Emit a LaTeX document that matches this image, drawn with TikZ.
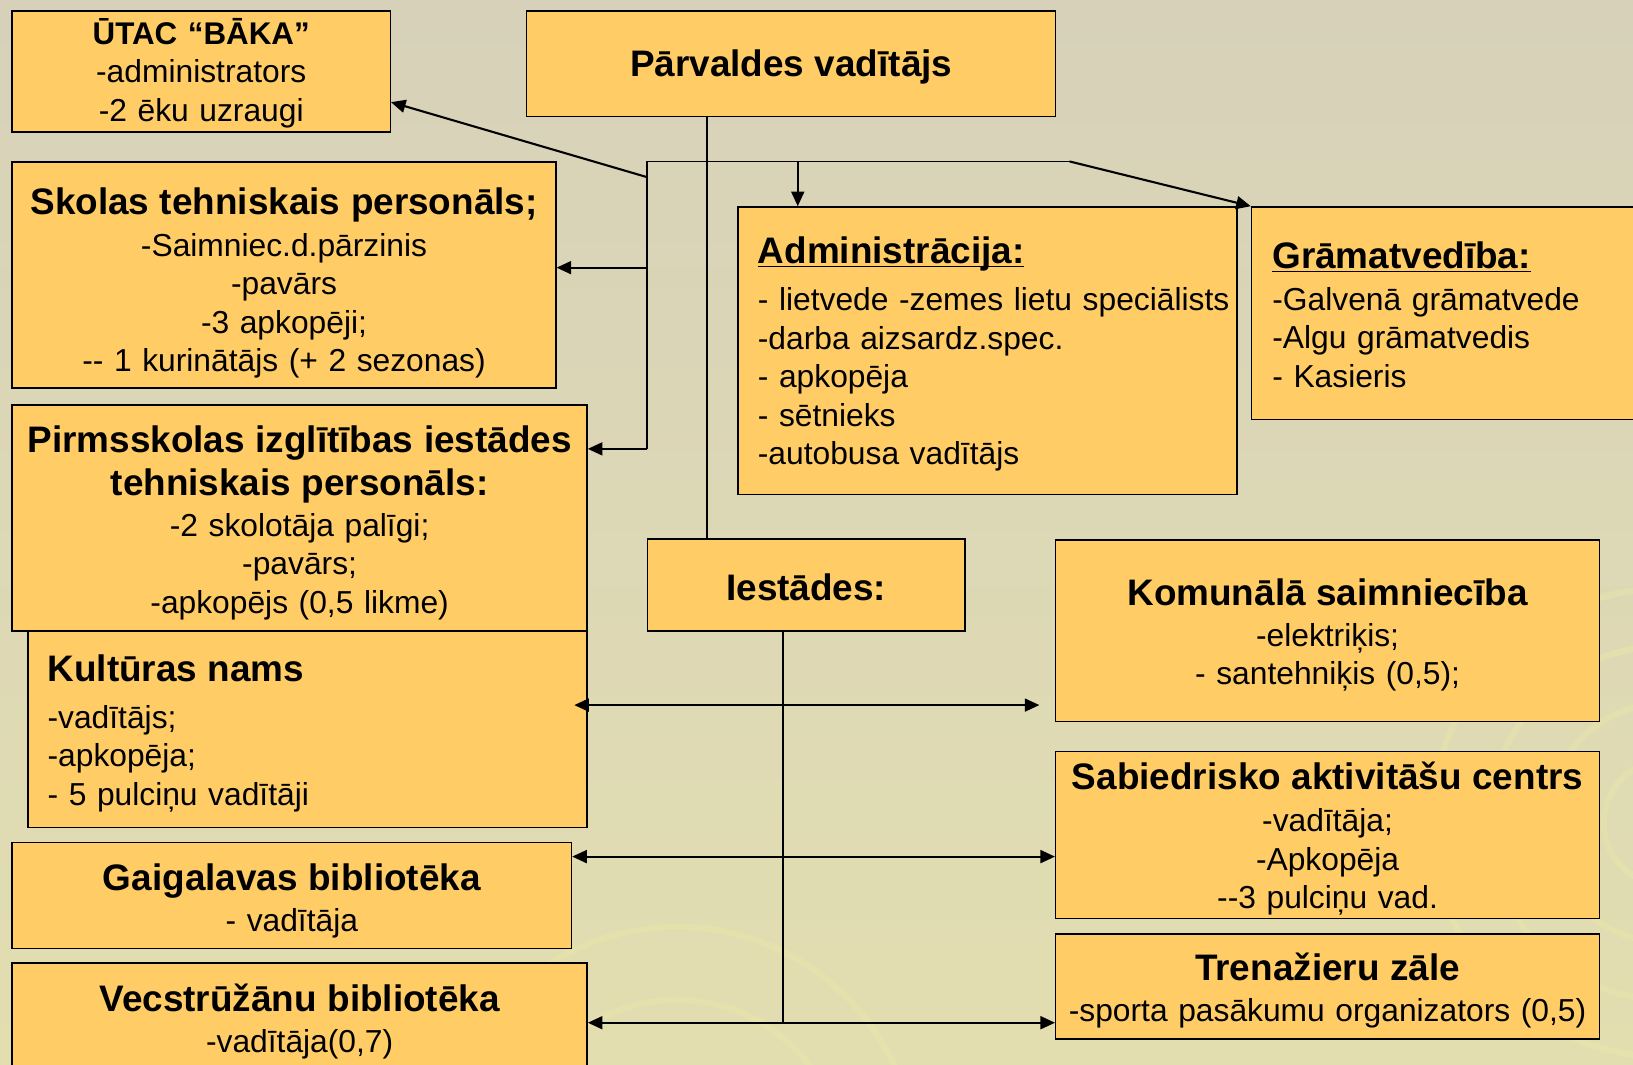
\documentclass[tikz,border=0pt]{standalone}
\usepackage{fontspec}
\setmainfont{Liberation Sans}
\usetikzlibrary{arrows.meta,calc}
\definecolor{boxfill}{RGB}{255,204,102}
\definecolor{bgtop}{RGB}{215,209,186}
\definecolor{bgbot}{RGB}{226,222,176}
\definecolor{swirl}{RGB}{238,235,168}
\def\ttl{\fontsize{25.2}{30}\selectfont\bfseries}
\def\sttl{\fontsize{21.4}{26.3}\selectfont\bfseries}
\def\txt{\fontsize{21.7}{26.3}\selectfont\lineskiplimit=-50pt}
\def\uttl#1{\underline{\smash{#1}}}
\def\tall#1{\rule{0pt}{#1pt}}
\tikzset{
	box/.style={draw=black, line width=1pt, fill=boxfill, anchor=north west, inner xsep=0pt, inner ysep=0pt, align=center, font=\txt},
	lbox/.style={box, align=left, inner xsep=4.75mm},
	sz/.style 2 args={text width=#1, minimum height=#2},
	link/.style={line width=0.5mm},
	trunkline/.style={line width=0.4mm},
	tip/.style={link, -{Triangle[length=3.5mm,width=3.1mm]}},
	tips/.style={link, {Triangle[length=3.5mm,width=3.1mm]}-{Triangle[length=3.5mm,width=3.1mm]}}
}

\begin{document}
\begin{tikzpicture}[x=0.25mm, y=-0.25mm]
		%%%%% BACKGROUND %%%%%
		\useasboundingbox (0,0) rectangle (1568,1022);
		\clip (0,0) rectangle (1568,1022);
		\shade[top color=bgtop, middle color=bgtop, bottom color=bgbot] (0,0) rectangle (1568,1022);
		\begin{scope}[swirl, line width=1.5mm, opacity=0.35]
			\foreach \r in {60,115,170,225} \draw (1600,790) circle (\r);
			\foreach \r in {90,160,230} \draw (650,1120) circle (\r);
		\end{scope}
		
		%%%%% UPPER PART %%%%%
		\node[box, sz={90.75mm}{29mm}] (utac) at (11,10) {\tall{19.8}{\sttl ŪTAC “BĀKA”}\\-administrators\\-2 ēku uzraugi};
		\node[box, sz={127mm}{25.25mm}] (parv) at (505,10) {\tall{22.7}{\ttl Pārvaldes vadītājs}};
		\node[box, sz={130.5mm}{54.25mm}] (skol) at (11,155) {\tall{29.1}{\ttl Skolas tehniskais personāls;}\\[2.1pt]-Saimniec.d.pārzinis\\-pavārs\\-3 apkopēji;\\-{}- 1 kurinātājs (+ 2 sezonas)};
		\node[box, sz={138mm}{54.25mm}] (pirm) at (11,388) {\tall{24.8}{\ttl Pirmsskolas izglītības iestādes\\[3.6pt]tehniskais personāls:}\\[1.4pt]-2 skolotāja palīgi;\\-pavārs;\\-apkopējs (0,5 likme)};
		\node[lbox, sz={110.25mm}{69mm}] (admin) at (708,198) {\tall{23}{\ttl\uttl{Administrācija:}}\\[5.7pt]\mbox{- lietvede -zemes lietu speciālists}\\-darba aizsardz.spec.\\- apkopēja\\- sētnieks\\-autobusa vadītājs};
		\node[lbox, inner xsep=5mm, sz={89.75mm}{51mm}] (gram) at (1201,198) {\tall{20.6}{\ttl\uttl{Grāmatvedība:}}\\[2.1pt]-Galvenā grāmatvede\\-Algu grāmatvedis\\- Kasieris};
		
		%%%%% LOWER PART %%%%%
		\node[box, sz={76.25mm}{22mm}] (iest) at (621,517) {\tall{21.2}{\ttl Iestādes:}};
		\node[lbox, sz={124.75mm}{47.25mm}] (kult) at (26,605) {\tall{24.1}{\ttl Kultūras nams}\\[5.7pt]-vadītājs;\\-apkopēja;\\- 5 pulciņu vadītāji};
		\node[box, sz={134.25mm}{25.5mm}] (gaig) at (11,808) {\tall{26.2}{\ttl Gaigalavas bibliotēka}\\[1.4pt]- vadītāja};
		\node[box, sz={138mm}{27mm}] (vecs) at (11,924) {\tall{22}{\ttl Vecstrūžānu bibliotēka}\\[2.1pt]-vadītāja(0,7)};
		\node[box, sz={130.5mm}{43.5mm}] (komu) at (1013,518) {\tall{24.1}{\ttl Komunālā saimniecība}\\[1.4pt]-elektriķis;\\- santehniķis (0,5);};
		\node[box, sz={130.5mm}{40mm}] (sabi) at (1013,721) {\tall{24.1}{\ttl Sabiedrisko aktivitāšu centrs}\\[2.1pt]-vadītāja;\\-Apkopēja\\-{}-3 pulciņu vad.};
		\node[box, sz={130.5mm}{25.25mm}] (tren) at (1013,896) {\tall{24.1}{\ttl Trenažieru zāle}\\[2.1pt]-sporta pasākumu organizators (0,5)};
		
		%%%%% CONNECTORS %%%%%
		\coordinate (trunk) at (679,111);
		\coordinate (brk) at (621,155);
		\coordinate (bend) at (1027,155);
		\coordinate (kU) at (621,170);
		\coordinate (kS) at (621,257);
		\coordinate (kP) at (621,431);
		\coordinate (kA) at (766,155);
		\draw[trunkline] (parv.south -| trunk) -- (iest.north -| trunk);
		\draw[trunkline] (kP) -- (brk) -- (bend);
		\draw[tip] (bend) -- (gram.north west);
		\draw[tip] (kA) -- (admin.north -| kA);
		\draw[tip] (kS) -- (skol.east |- kS);
		\draw[tip] (kP) -- (pirm.east |- kP);
		\draw[tip] (kU) -- ($(utac.north east)!0.75!(utac.south east)$);
		
		\coordinate (hub) at (751.6,982);
		\coordinate (r1) at (751.6,677);
		\coordinate (r2) at (751.6,822.5);
		\draw[trunkline] (iest.south -| hub) -- (hub);
		\draw[tips, shorten <=-3.25mm, shorten >=3.75mm] (kult.east |- r1) -- (komu.west |- r1);
		\draw[tips] (gaig.east |- r2) -- (sabi.west |- r2);
		\draw[tips] (vecs.east |- hub) -- (tren.west |- hub);
\end{tikzpicture}
\end{document}
